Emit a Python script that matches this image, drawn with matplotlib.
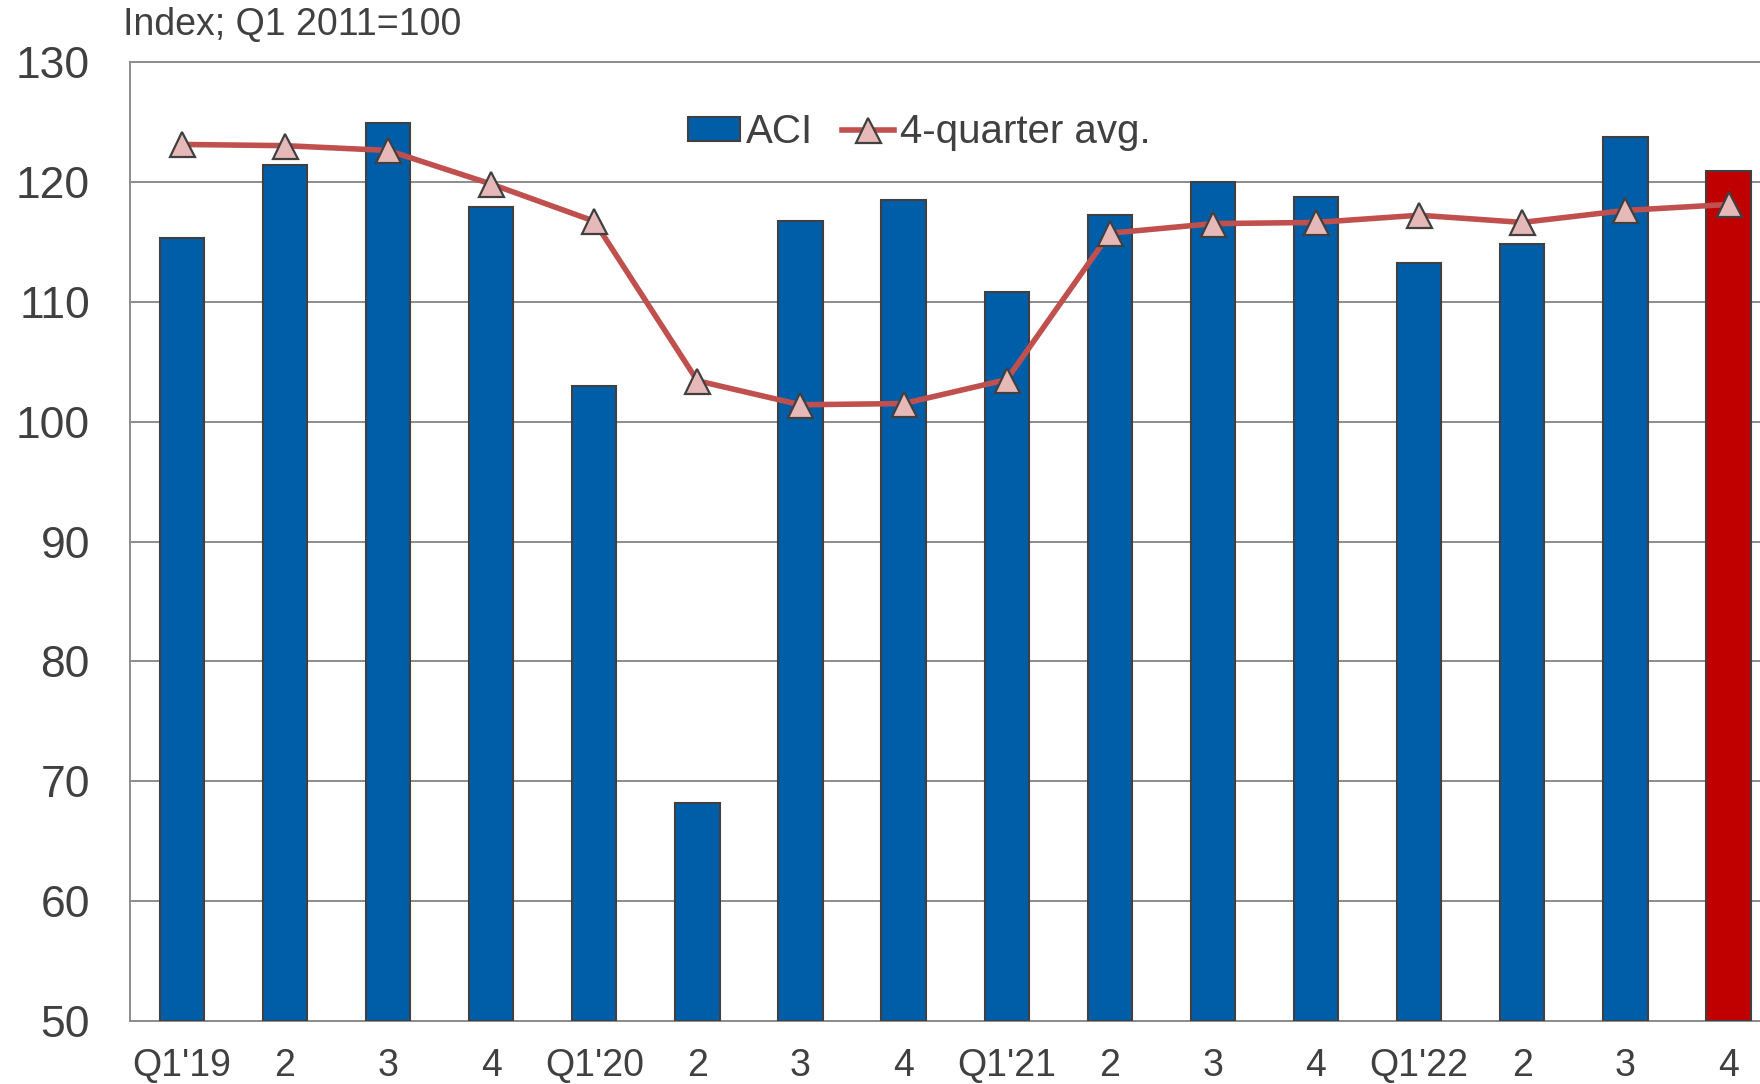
import numpy as np
import matplotlib.pyplot as plt

# Dados
quarters = ["Q1'19", "2", "3", "4", "Q1'20", "2", "3", "4",
            "Q1'21", "2", "3", "4", "Q1'22", "2", "3", "4"]
aci = [115.3, 121.4, 124.9, 117.9, 103.0, 68.2, 116.7, 118.5,
       110.8, 117.2, 120.0, 118.7, 113.2, 114.8, 123.7, 120.9]
avg4q = [123.1, 123.0, 122.6, 119.8, 116.7, 103.4, 101.4, 101.5,
         103.5, 115.7, 116.5, 116.6, 117.2, 116.6, 117.6, 118.1]
yticks = [50, 60, 70, 80, 90, 100, 110, 120, 130]

plt.rcParams['font.family'] = ['Liberation Sans', 'DejaVu Sans']
text_color = '#404040'
grid_color = '#8c8c8c'

fig = plt.figure(figsize=(17.6, 10.84), dpi=100)
ax = fig.add_axes([0.074, 0.0578, 0.9374, 0.8853])

x = np.arange(len(quarters))
colors = ['#005EA8'] * len(quarters)
colors[-1] = '#C00000'

bars = ax.bar(x, np.array(aci) - 50, bottom=50, width=0.43, color=colors,
              edgecolor='#404040', linewidth=1.5, zorder=3, label='ACI')
line, = ax.plot(x, avg4q, color='#C0504D', linewidth=4, marker='^', markersize=18,
                markerfacecolor='#E6B9B8', markeredgecolor='#404040', markeredgewidth=1.6,
                zorder=4, label='4-quarter avg.')

ax.set_xlim(-0.5, 15.5)
ax.set_ylim(50, 130)
ax.set_yticks(yticks)
ax.set_xticks(x)
ax.set_xticklabels(quarters)
ax.yaxis.grid(True, color=grid_color, linewidth=1.4, zorder=0)
ax.set_axisbelow(True)

for side in ['left', 'bottom', 'top']:
    ax.spines[side].set_color(grid_color)
    ax.spines[side].set_linewidth(1.4)
ax.spines['right'].set_visible(False)

ax.tick_params(axis='y', length=0, pad=29, labelsize=32, labelcolor=text_color)
ax.tick_params(axis='x', length=0, pad=19, labelsize=27, labelcolor=text_color)

fig.text(123 / 1760, 1 - 25 / 1084, 'Index; Q1 2011=100', fontsize=27,
         color=text_color, ha='left', va='center')

leg = fig.legend([bars, line], ['ACI', '4-quarter avg.'],
                 loc='center left', bbox_to_anchor=(688 / 1760, 1 - 132 / 1084),
                 ncol=2, frameon=False, fontsize=29, handlelength=1.3,
                 handleheight=0.55, handletextpad=0.15, columnspacing=0.7,
                 borderpad=0, borderaxespad=0)
for t in leg.get_texts():
    t.set_color(text_color)

fig.savefig('out.png', dpi=100)
